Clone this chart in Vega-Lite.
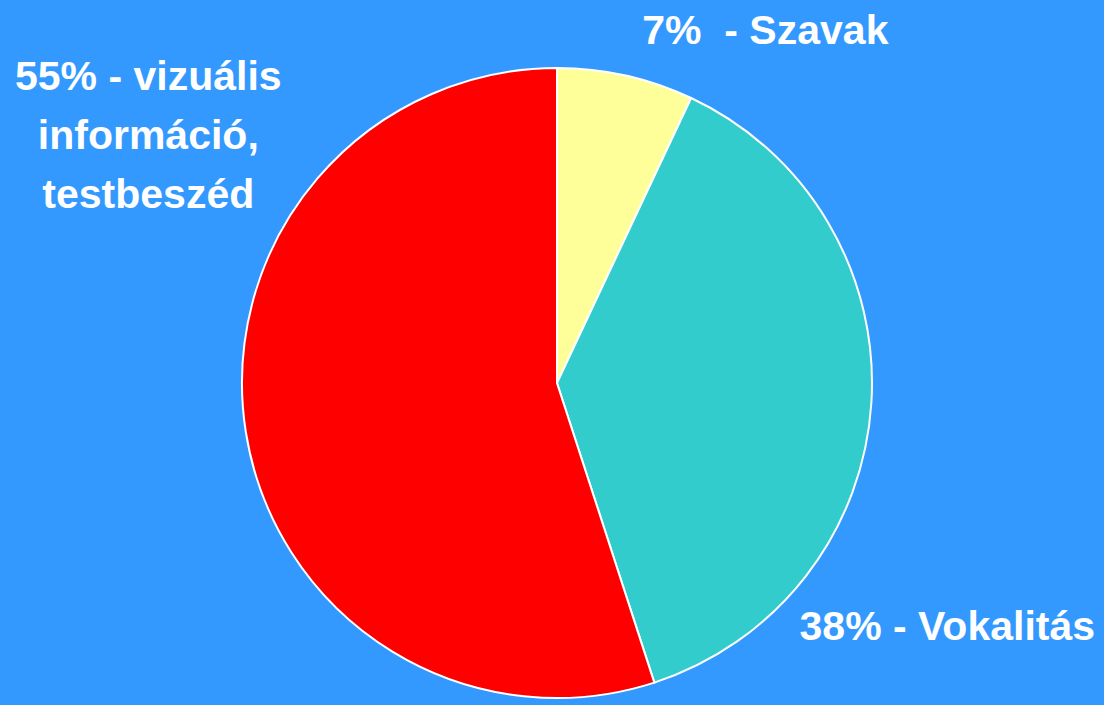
{
  "$schema": "https://vega.github.io/schema/vega-lite/v6.json",
  "width": 1094,
  "height": 644,
  "autosize": {"type": "none"},
  "padding": {"left": 10, "top": 61, "right": 0, "bottom": 0},
  "background": "#3399FF",
  "config": {"view": {"stroke": null}},
  "data": {"values": [
    {"name": "Szavak", "value": 7, "order": 1, "label": "7%\u00a0 - Szavak"},
    {"name": "Vokalitás", "value": 38, "order": 2, "label": "38% - Vokalitás"},
    {"name": "vizuális", "value": 55, "order": 3, "label": "55% - vizuális\ninformáció,\ntestbeszéd"}
  ]},
  "encoding": {
    "theta": {"field": "value", "type": "quantitative", "stack": true},
    "order": {"field": "order", "type": "quantitative"}
  },
  "layer": [
    {
      "mark": {"type": "arc", "outerRadius": 315, "stroke": "white", "strokeWidth": 2},
      "encoding": {
        "color": {"field": "name", "type": "nominal",
          "scale": {"domain": ["Szavak", "Vokalitás", "vizuális"], "range": ["#FFFF99", "#33CCCC", "#FF0000"]},
          "legend": null}
      }
    },
    {
      "mark": {"type": "text", "radius": 350, "dx": 132, "dy": 3, "align": "center", "baseline": "alphabetic",
        "font": "Liberation Sans", "fontWeight": "bold", "fontSize": 41, "fill": "white"},
      "encoding": {"text": {"condition": {"test": "datum.name === 'Szavak'", "field": "label"}, "value": ""}}
    },
    {
      "mark": {"type": "text", "radius": 350, "dx": 41, "dy": 235, "align": "center", "baseline": "alphabetic",
        "font": "Liberation Sans", "fontWeight": "bold", "fontSize": 41, "fill": "white"},
      "encoding": {"text": {"condition": {"test": "datum.name === 'Vokalitás'", "field": "label"}, "value": ""}}
    },
    {
      "mark": {"type": "text", "radius": 350, "dx": -63, "dy": -348, "align": "center", "baseline": "alphabetic",
        "lineBreak": "\n", "lineHeight": 59,
        "font": "Liberation Sans", "fontWeight": "bold", "fontSize": 41, "fill": "white"},
      "encoding": {"text": {"condition": {"test": "datum.name === 'vizuális'", "field": "label"}, "value": ""}}
    }
  ]
}
